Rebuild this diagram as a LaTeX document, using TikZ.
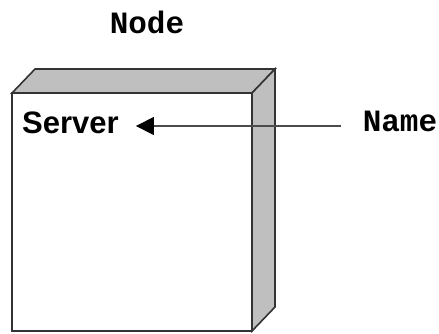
\documentclass[tikz,border=0pt]{standalone}
\usepackage{fontspec}
\newfontfamily\arialf{Liberation Sans}
\newfontfamily\courf{Liberation Mono}
\usetikzlibrary{arrows.meta}
\begin{document}
\begin{tikzpicture}[x=1pt,y=-1pt,
  edge/.style={draw=black!80,line width=1.6pt,line join=miter},
  side/.style={edge,fill=black!25},
  front/.style={edge,fill=white},
  mono/.style={font=\courf\bfseries\fontsize{31}{36}\selectfont,inner sep=0pt},
  sans/.style={font=\arialf\bfseries\fontsize{31}{36}\selectfont,inner sep=0pt,anchor=base west},
  pointer/.style={draw=black!70,line width=1.4pt,-{Triangle[length=18pt,width=18pt,color=black]}}]
\useasboundingbox (0,0) rectangle (439,333);
% front face corners
\coordinate (fa) at (12,93);
\coordinate (fb) at (252,93);
\coordinate (fc) at (252,331);
\coordinate (fd) at (12,331);
\coordinate (ba) at (35,69);
\coordinate (bb) at (275,69);
\coordinate (bc) at (275,307);
% top side
\path[side] (fa) -- (ba) -- (bb) -- (fb) -- cycle;
% right side
\path[side] (fb) -- (bb) -- (bc) -- (fc) -- cycle;
% front
\path[front] (fa) rectangle (fc);
% labels
\node[mono] (node) at (147,22) {Node};
\node[sans] (server) at (22,133) {Server};
\node[mono] (name) at (400,121) {Name};
\coordinate (astart) at ([xshift=-22pt]name.west |- 0,126);
\coordinate (aend) at ([xshift=17pt]server.east |- 0,126);
\draw[pointer] (astart) -- (aend);
\end{tikzpicture}
\end{document}
